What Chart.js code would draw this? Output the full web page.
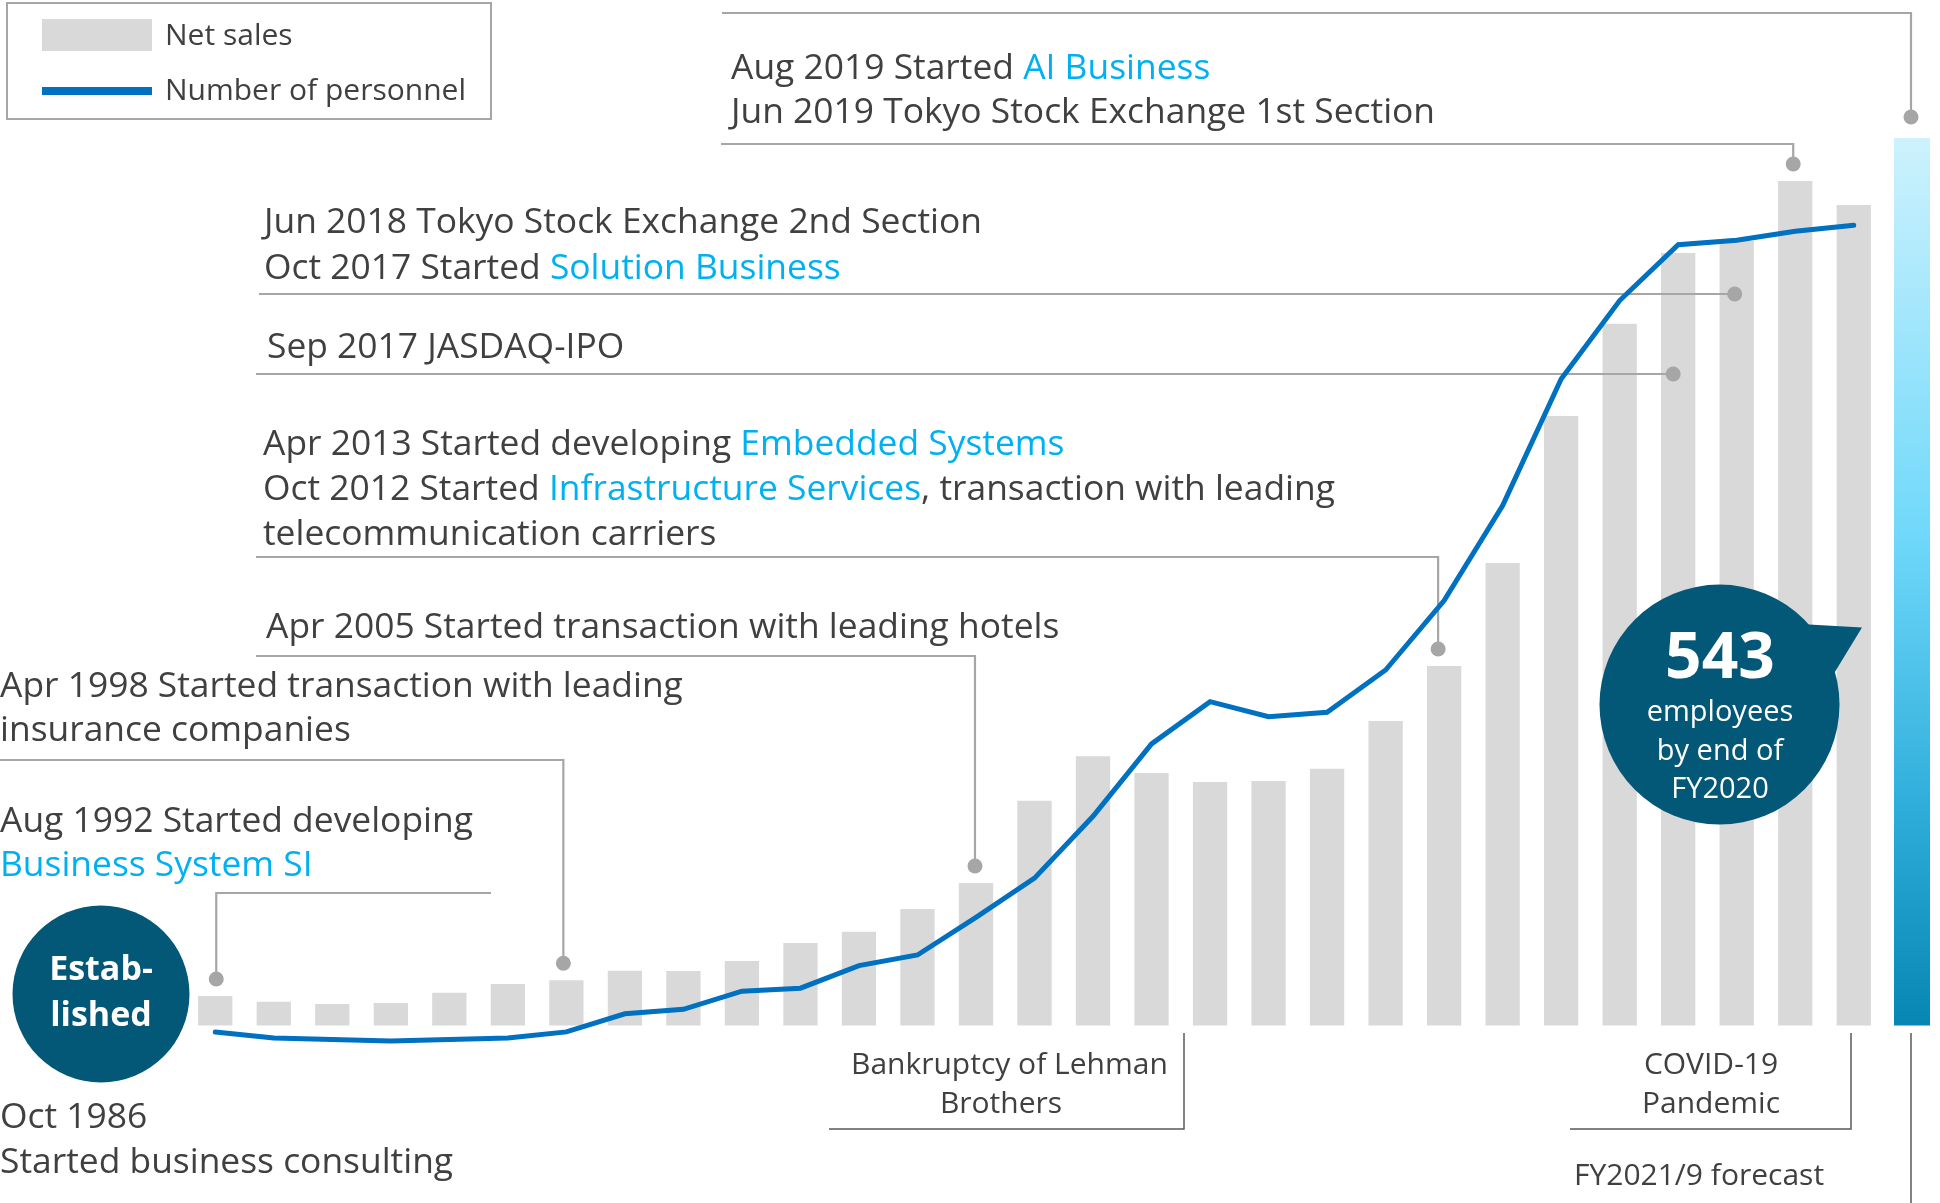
<!DOCTYPE html>
<html>
<head>
<meta charset="utf-8">
<script src="https://cdn.jsdelivr.net/npm/chart.js@4.4.1/dist/chart.umd.min.js"></script>
<style>
  body { margin: 0; background: #fff; }
  #wrap { position: relative; width: 1940px; height: 1203px; overflow: hidden;
          font-family: "Open Sans", "Noto Sans", sans-serif; color: #404040; }
  #chart { position: absolute; left: 0; top: 0; }
  .t { position: absolute; white-space: nowrap; font-size: 35.4px; line-height: 45px; }
  .hl { color: #00b0f0; }
  .sm { font-size: 30px; line-height: 38.5px; }
  .c { text-align: center; }
  .w { color: #fff; }
  .b { font-weight: 700; }
  #legend { position: absolute; left: 6px; top: 2px; width: 482px; height: 114px; border: 2px solid #a6a6a6; }
  .sw { position: absolute; left: 42px; width: 110px; }
</style>
</head>
<body>
<div id="wrap">
  <canvas id="chart" width="1940" height="1203"></canvas>

  <div id="legend"></div>
  <div class="sw" style="top:19px;height:32px;background:#d9d9d9"></div>
  <div class="sw" style="top:87px;height:7.5px;background:#0070c0"></div>
  <div class="t" style="left:165px;top:14px;font-size:30px;line-height:40px">Net sales</div>
  <div class="t" style="left:165px;top:69px;font-size:30px;line-height:40px">Number of personnel</div>

  <div class="t" style="left:731px;top:43px;line-height:44.3px">Aug 2019 Started <span class="hl">AI Business</span><br>Jun 2019 Tokyo Stock Exchange 1st Section</div>
  <div class="t" style="left:264px;top:196px;line-height:46px">Jun 2018 Tokyo Stock Exchange 2nd Section<br>Oct 2017 Started <span class="hl">Solution Business</span></div>
  <div class="t" style="left:267px;top:321.5px">Sep 2017 JASDAQ-IPO</div>
  <div class="t" style="left:263px;top:418.5px">Apr 2013 Started developing <span class="hl">Embedded Systems</span><br>Oct 2012 Started <span class="hl">Infrastructure Services</span>, transaction with leading<br>telecommunication carriers</div>
  <div class="t" style="left:266px;top:601.5px">Apr 2005 Started transaction with leading hotels</div>
  <div class="t" style="left:0;top:660.5px;line-height:44.5px">Apr 1998 Started transaction with leading<br>insurance companies</div>
  <div class="t" style="left:0;top:795.5px;line-height:44px">Aug 1992 Started developing<br><span class="hl">Business System SI</span></div>
  <div class="t" style="left:0;top:1092px">Oct 1986<br>Started business consulting</div>

  <div class="t sm c" style="left:851px;width:300px;top:1044px">Bankruptcy of Lehman<br>Brothers</div>
  <div class="t sm c" style="left:1561px;width:300px;top:1044px">COVID-19<br>Pandemic</div>
  <div class="t sm" style="left:1574px;top:1155px">FY2021/9 forecast</div>

  <div class="t c w b" style="left:21px;width:160px;top:945px;font-size:34px;line-height:45.6px">Estab-<br>lished</div>
  <div class="t c w b" style="left:1620px;width:200px;top:614px;font-size:64px;line-height:80px">543</div>
  <div class="t c w" style="left:1620px;width:200px;top:691px;font-size:29px;line-height:38.5px">employees<br>by end of<br>FY2020</div>
</div>

<script>
// fiscal years ending September; last one is the FY2021/9 forecast
const fiscalYears = ['FY1993', 'FY1994', 'FY1995', 'FY1996', 'FY1997', 'FY1998', 'FY1999', 'FY2000',
  'FY2001', 'FY2002', 'FY2003', 'FY2004', 'FY2005', 'FY2006', 'FY2007', 'FY2008', 'FY2009', 'FY2010',
  'FY2011', 'FY2012', 'FY2013', 'FY2014', 'FY2015', 'FY2016', 'FY2017', 'FY2018', 'FY2019', 'FY2020', 'FY2021'];

// net sales (relative units)
const netSales = [295, 238, 215, 225, 328, 415, 452, 548, 545, 645, 825, 938, 1165, 1425, 2248,
  2692, 2525, 2435, 2445, 2568, 3045, 3595, 4625, 6095, 7018, 7725, 7845, 8445, 8205];

// number of personnel (543 at end of FY2020)
const personnel = [12, 8, 7, 6, 7, 8, 12, 24, 27, 39, 41, 56, 63, 88, 114, 155, 203, 231, 221,
  224, 252, 298, 361, 445, 497, 534, 537, 543, 547];

// leader lines from the event texts down to the bars
const leaders = [
  { idx: 0,  x0: 491, y: 893, dx: 1 },                // Aug 1992
  { idx: 6,  x0: 0,   y: 760, dx: -3 },               // Apr 1998
  { idx: 13, x0: 256, y: 656, dx: -1 },               // Apr 2005
  { idx: 21, x0: 256, y: 557, dx: -6 },               // Oct 2012 / Apr 2013
  { idx: 25, x0: 256, y: 374, dx: -5, onLine: true }, // Sep 2017
  { idx: 26, x0: 259, y: 294, dx: -2, onLine: true }, // Oct 2017 / Jun 2018
  { idx: 27, x0: 721, y: 144, dx: -2 }                // Jun 2019 / Aug 2019
];

function dot(ctx, x, y) {
  ctx.beginPath();
  ctx.arc(x, y, 7.5, 0, Math.PI * 2);
  ctx.fill();
}

const overlay = {
  id: 'overlay',
  beforeDatasetsDraw(chart) {
    const { ctx, scales } = chart;
    const base = scales.ySales.getPixelForValue(0);
    // gradient bar on the right
    const g = ctx.createLinearGradient(0, 138, 0, base);
    g.addColorStop(0, '#cdf2fd');
    g.addColorStop(0.45, '#6fd8fa');
    g.addColorStop(0.75, '#30aedb');
    g.addColorStop(1, '#0886b3');
    ctx.save();
    ctx.fillStyle = g;
    ctx.fillRect(1894, 138, 36, base - 138);
    ctx.restore();
  },
  beforeDatasetDraw(chart, args) {
    if (args.meta.type !== 'line') return;
    const { ctx, scales } = chart;
    ctx.save();
    ctx.strokeStyle = '#a6a6a6';
    ctx.fillStyle = '#a6a6a6';
    ctx.lineWidth = 2.2;
    leaders.forEach(l => {
      const px = scales.x.getPixelForValue(l.idx) + l.dx;
      const py = l.onLine ? l.y : scales.ySales.getPixelForValue(netSales[l.idx]) - 17;
      ctx.beginPath();
      ctx.moveTo(l.x0, l.y);
      ctx.lineTo(px, l.y);
      ctx.lineTo(px, py);
      ctx.stroke();
      dot(ctx, px, py);
    });
    // top leader to the gradient bar
    ctx.beginPath();
    ctx.moveTo(722, 13);
    ctx.lineTo(1911, 13);
    ctx.lineTo(1911, 117);
    ctx.stroke();
    dot(ctx, 1911, 117);
    ctx.restore();
  },
  afterDatasetsDraw(chart) {
    const { ctx } = chart;
    ctx.save();
    // Lehman / COVID brackets and forecast line
    ctx.strokeStyle = '#595959';
    ctx.lineWidth = 1.5;
    ctx.beginPath();
    ctx.moveTo(829, 1129); ctx.lineTo(1184, 1129); ctx.lineTo(1184, 1033);
    ctx.moveTo(1570, 1129); ctx.lineTo(1851, 1129); ctx.lineTo(1851, 1033);
    ctx.moveTo(1911, 1033); ctx.lineTo(1911, 1203);
    ctx.stroke();
    // circles
    ctx.fillStyle = '#035878';
    ctx.beginPath();
    ctx.arc(101, 994, 88.5, 0, Math.PI * 2);
    ctx.fill();
    ctx.beginPath();
    ctx.arc(1719.5, 704.6, 120, 0, Math.PI * 2);
    ctx.fill();
    ctx.beginPath();
    ctx.moveTo(1800, 624);
    ctx.lineTo(1862, 627.6);
    ctx.lineTo(1830, 680);
    ctx.closePath();
    ctx.fill();
    ctx.restore();
  }
};

new Chart(document.getElementById('chart'), {
  type: 'bar',
  data: {
    labels: fiscalYears,
    datasets: [
      {
        type: 'line',
        label: 'Number of personnel',
        data: personnel,
        yAxisID: 'yStaff',
        borderColor: '#0070c0',
        borderWidth: 5,
        borderCapStyle: 'round',
        pointRadius: 0,
        tension: 0,
        order: 0
      },
      {
        type: 'bar',
        label: 'Net sales',
        data: netSales,
        yAxisID: 'ySales',
        backgroundColor: '#d9d9d9',
        barPercentage: 0.586,
        categoryPercentage: 1,
        order: 1
      }
    ]
  },
  options: {
    responsive: false,
    animation: false,
    devicePixelRatio: 1,
    layout: { padding: { left: 186, right: 57, top: 100, bottom: 153 } },
    plugins: { legend: { display: false }, tooltip: { enabled: false } },
    scales: {
      x: { display: false, offset: true },
      ySales: { display: false, min: -245, max: 9255 },
      yStaff: { display: false, min: 0, max: 630 }
    }
  },
  plugins: [overlay]
});
</script>
</body>
</html>
